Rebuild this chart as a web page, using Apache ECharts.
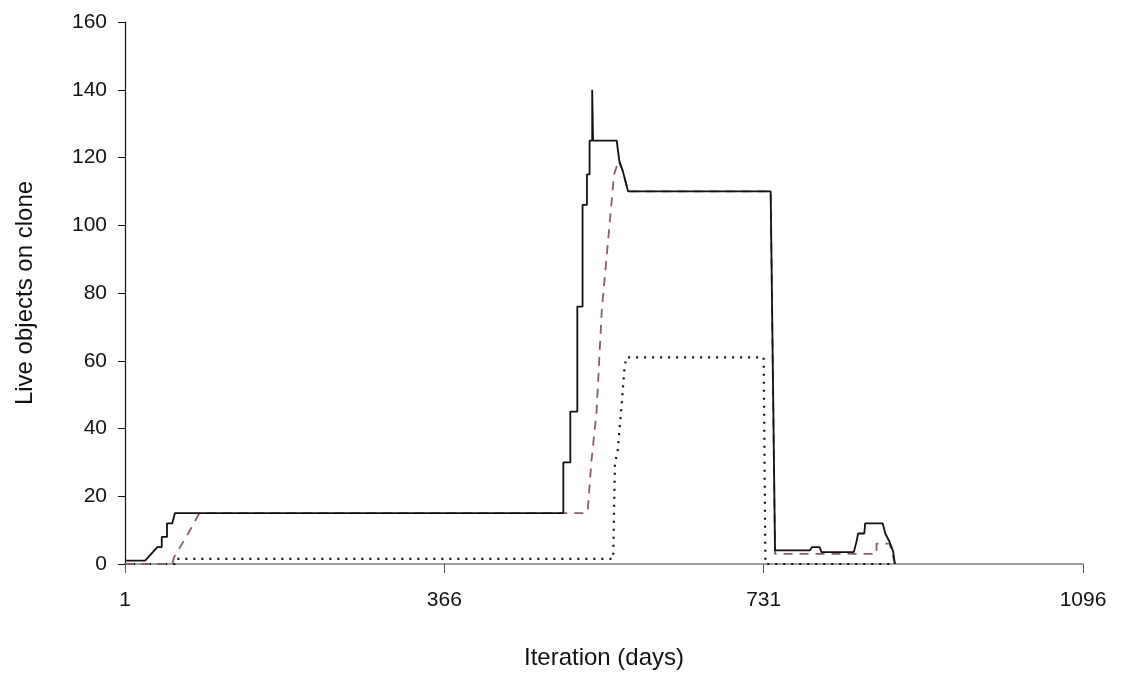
<!DOCTYPE html>
<html>
<head>
<meta charset="utf-8">
<script src="https://cdn.jsdelivr.net/npm/echarts@6/dist/echarts.min.js"></script>
<style>html,body{margin:0;padding:0;background:#fff;}#c{width:1123px;height:683px;}</style>
</head>
<body>
<div id="c"></div>
<script>
// x tick labels (days)
const xTicks = [1, 366, 731, 1096];
// Solid series: [day, live objects]
const solidDays = [1,24,31,38,43,43,49,49,55,58,502,502,510,510,518,518,524,524,529,529,532,532,535,535,536,536,563,566,570,573,576,739,744,784,786,795,797,834,837,839,846,847,867,870,875,879,881];
const solidVals = [1,1,3,5,5,8,8,12,12,15,15,30,30,45,45,76,76,106,106,115,115,125,125,140,140,125,125,119,116,113,110,110,4,4,5,5,3.5,3.5,6.5,9,9,12,12,9,6.5,3.7,0];
// Dashed series
const dashedDays = [1,55,57,71,86,528,530,534,540,546,553,560,565,570,573,576,739,744,860,860,875,878,881];
const dashedVals = [0,0,2,8,15,15,16,30,45,75,95,115,119,116,113,110,110,3,3,6,6,3,0];
// Dotted series
const dottedDays = [1,58,60,559,561,564,568,572,574,731,733,881];
const dottedVals = [0,0,1.5,1.5,30,33,45,58,61,61,0,0];

function pairs(d, v){ return d.map((x,i)=>[x, v[i]]); }

const font = 'Liberation Sans, Arial, sans-serif';
const chart = echarts.init(document.getElementById('c'), null, {renderer:'canvas'});
chart.setOption({
  animation:false,
  backgroundColor:'#ffffff',
  grid:{left:125, right:40, top:22, bottom:119, containLabel:false},
  xAxis:{
    type:'value', min:1, max:1096,
    name:'Iteration (days)', nameLocation:'middle', nameGap:82,
    nameTextStyle:{fontFamily:font, fontSize:24, color:'#111'},
    axisLine:{show:true, lineStyle:{color:'#808080', width:1.5}},
    axisTick:{show:true, inside:false, length:9, lineStyle:{color:'#555'}, customValues:xTicks},
    axisLabel:{fontFamily:font, fontSize:21, color:'#111', margin:26, customValues:xTicks,
               formatter:function(v){ return String(v); }},
    splitLine:{show:false}
  },
  yAxis:{
    type:'value', min:0, max:160, interval:20,
    name:'Live objects on clone', nameLocation:'middle', nameGap:88,
    nameTextStyle:{fontFamily:font, fontSize:24, color:'#111'},
    axisLine:{show:true, onZero:false, lineStyle:{color:'#111', width:1.2}},
    axisTick:{show:true, inside:false, length:7, lineStyle:{color:'#111'}},
    axisLabel:{fontFamily:font, fontSize:21, color:'#111', margin:18},
    splitLine:{show:false}
  },
  series:[
    {type:'line', name:'dotted', data:pairs(dottedDays, dottedVals), showSymbol:false, z:2,
     lineStyle:{color:'#111', width:2.2, type:[2,6]}},
    {type:'line', name:'dashed', data:pairs(dashedDays, dashedVals), showSymbol:false, z:3,
     lineStyle:{color:'#8a5a72', width:1.8, type:[9,7]}},
    {type:'line', name:'solid', data:pairs(solidDays, solidVals), showSymbol:false, z:4,
     lineStyle:{color:'#111', width:1.8}}
  ]
});
</script>
</body>
</html>
